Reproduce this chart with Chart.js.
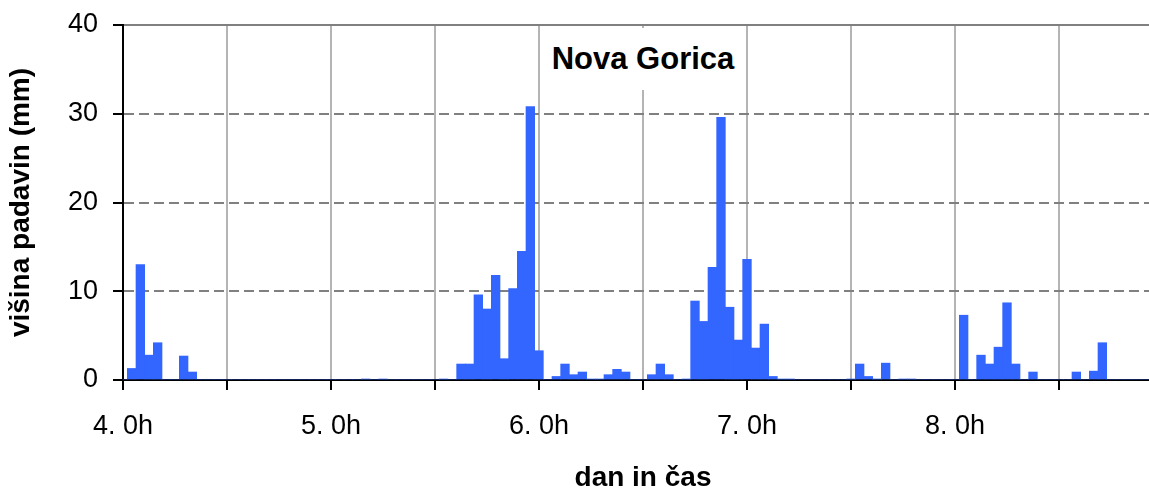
<!DOCTYPE html>
<html>
<head>
<meta charset="utf-8">
<script src="https://cdn.jsdelivr.net/npm/chart.js@4.4.1/dist/chart.umd.min.js"></script>
<style>
  html, body { margin: 0; padding: 0; background: #fff; overflow: hidden; }
  #wrap { position: relative; width: 1149px; height: 488px; overflow: hidden; }
  #precipChart { position: absolute; left: 0; top: 0; }
  /* station name sits inside the plot on a white box */
  #stationName {
    position: absolute; left: 541px; top: 28px; width: 204px; height: 62px;
    background: #fff; color: #000; text-align: center;
    font: bold 31px "Liberation Sans", Arial, sans-serif;
    line-height: 62px;
  }
</style>
</head>
<body>
<div id="wrap">
  <canvas id="precipChart" width="1175" height="488"></canvas>
  <div id="stationName">Nova Gorica</div>
</div>
<script>
// hourly precipitation (mm), one array per day, hours 0..23
const days = [4, 5, 6, 7, 8, 9];
const day4 = [0, 1.3, 13.0, 2.8, 4.2, 0, 0, 2.7, 0.9, 0, 0, 0, 0, 0, 0, 0, 0, 0, 0, 0, 0, 0, 0, 0];
const day5 = [0, 0, 0, 0, 0.1, 0, 0.1, 0, 0, 0, 0, 0, 0, 0.1, 0, 1.8, 1.8, 9.6, 8.0, 11.8, 2.4, 10.3, 14.5, 30.8];
const day6 = [3.3, 0, 0.4, 1.8, 0.6, 0.9, 0.1, 0.1, 0.6, 1.2, 0.9, 0, 0, 0.6, 1.8, 0.6, 0, 0.1, 8.9, 6.6, 12.7, 29.6, 8.2, 4.5];
const day7 = [13.6, 3.6, 6.3, 0.4, 0.1, 0.1, 0, 0, 0, 0, 0, 0, 0.1, 1.8, 0.4, 0.1, 1.9, 0, 0.1, 0.1, 0, 0, 0, 0];
const day8 = [0, 7.3, 0, 2.8, 1.8, 3.7, 8.7, 1.8, 0, 0.9, 0, 0, 0, 0, 0.9, 0, 1.0, 4.2, 0, 0, 0, 0, 0, 0];
const day9 = [0];

const precip = [].concat(day4, day5, day6, day7, day8, day9);

// category labels "4. 0h", "4. 1h", ...
const labels = [];
days.forEach(function (d, i) {
    const n = i === days.length - 1 ? 1 : 24;
    for (let h = 0; h < n; h++) labels.push(d + '. ' + h + 'h');
});

const fontFamily = '"Liberation Sans", Arial, Helvetica, sans-serif';
Chart.defaults.font.family = fontFamily;
Chart.defaults.color = '#000';

const ctx = document.getElementById('precipChart').getContext('2d');

new Chart(ctx, {
    type: 'bar',
    data: {
        labels: labels,
        datasets: [{
            label: 'Nova Gorica',
            data: precip,
            backgroundColor: '#3366ff',
            borderWidth: 0,
            barPercentage: 1.0,
            categoryPercentage: 1.0
        }]
    },
    options: {
        responsive: false,
        animation: false,
        layout: { padding: { left: 4, top: 25, right: 12, bottom: 0 } },
        plugins: {
            legend: { display: false },
            tooltip: { enabled: false }
        },
        scales: {
            x: {
                type: 'category',
                offset: false,
                grid: {
                    offset: false,
                    color: function (c) { return c.index === 0 ? 'rgba(0,0,0,0)' : '#b4b4b4'; },
                    lineWidth: 2,
                    tickColor: '#000',
                    tickLength: 10,
                    tickWidth: 2,
                    tickBorderDash: []
                },
                border: { color: '#000', width: 2 },
                ticks: {
                    autoSkip: false,
                    maxRotation: 0,
                    minRotation: 0,
                    padding: 20,
                    font: { size: 27 },
                    callback: function (value, index) {
                        if (index % 24 === 0) return index === labels.length - 1 ? '' : this.getLabelForValue(value);
                        if (index % 12 === 0) return '';   // grid line only
                        return null;
                    }
                },
                title: {
                    display: true,
                    text: 'dan in čas',
                    font: { size: 28, weight: 'bold', lineHeight: 0.7 },
                    padding: { top: 0, bottom: 0 }
                },
                afterFit: function (scale) {
                    scale.height = 108;
                    scale.paddingLeft = 0;
                    scale.paddingRight = 0;
                }
            },
            y: {
                min: 0,
                max: 40,
                ticks: { stepSize: 10, padding: 15, font: { size: 27 } },
                grid: {
                    color: function (c) { return c.tick && c.tick.value === 0 ? 'rgba(0,0,0,0)' : '#808080'; },
                    lineWidth: 2,
                    tickColor: '#000',
                    tickLength: 10,
                    tickWidth: 2,
                    tickBorderDash: []
                },
                border: {
                    color: '#000',
                    width: 2,
                    // dashed inner grid lines, solid top line
                    dash: function (c) { return (c.tick && c.tick.value > 0 && c.tick.value < 40) ? [10, 5] : []; }
                },
                title: {
                    display: true,
                    text: 'višina padavin (mm)',
                    font: { size: 28, weight: 'bold' },
                    padding: { top: 0, bottom: 0 }
                },
                afterFit: function (scale) {
                    scale.width = 119;
                    scale.paddingTop = 0;
                    scale.paddingBottom = 0;
                }
            }
        }
    }
});
</script>
</body>
</html>
